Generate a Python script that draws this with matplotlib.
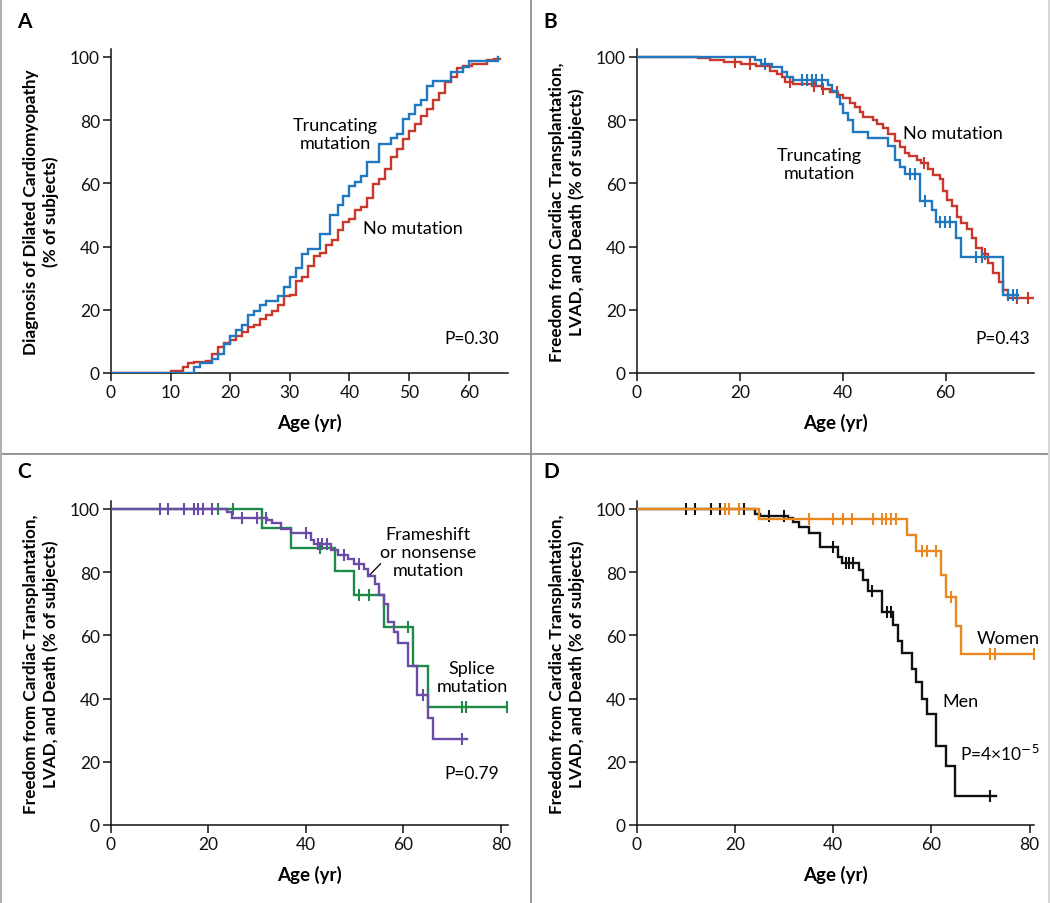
import numpy as np
import matplotlib
matplotlib.use("Agg")
import matplotlib.pyplot as plt
from matplotlib.lines import Line2D

plt.rcParams['font.family'] = ['Lato', 'DejaVu Sans']

# ---------------- Panel A: cumulative diagnosis ----------------
a_none_ages = [10, 12, 13, 14, 16, 17, 18, 19, 20, 21, 22, 23, 24, 25, 26, 27, 28, 29, 30, 31,
               32, 33, 34, 35, 36, 37, 38, 39, 40, 41, 42, 43, 44, 45, 46, 47, 48, 49, 50, 51,
               52, 53, 54, 55, 56, 57, 58, 59, 60.6, 63, 64.2]
a_none_vals = [0.6, 1.9, 3.2, 3.5, 3.8, 5.9, 8.2, 9.6, 10.3, 11.6, 13.0, 14.5, 15.1, 17.2, 18.2,
               19.5, 21.4, 24.4, 24.6, 29.1, 30.4, 34.0, 37.0, 38.0, 40.6, 42.1, 45.1, 47.8, 48.8,
               51.5, 52.5, 55.4, 59.7, 61.5, 64.5, 68.4, 70.8, 73.9, 76.5, 78.7, 81.2, 83.6, 86.3,
               88.7, 92.1, 93.7, 96.5, 97.2, 97.8, 99.0, 99.3]
a_none_end = 65.2
a_trunc_ages = [14, 15, 17, 18, 19, 20, 21, 22, 23, 24, 25, 26, 28, 29, 30, 31, 32, 33, 35, 36.8,
                38, 39, 40, 41, 42, 43, 45, 47, 48, 49, 50, 51, 52, 53, 54, 57, 59, 60, 65]
a_trunc_vals = [1.9, 3.3, 4.5, 6.1, 9.3, 11.6, 13.7, 15.3, 18.2, 19.6, 21.4, 22.8, 24.3, 27.2,
                30.4, 33.2, 37.8, 39.3, 44.1, 49.9, 53.1, 56.0, 59.1, 60.4, 62.2, 66.6, 72.6,
                74.2, 75.7, 80.3, 81.8, 84.9, 86.3, 90.8, 92.3, 95.3, 96.8, 98.7, 100.0]
a_trunc_end = 65

# ---------------- Panel B: survival, truncating vs none ----------------
b_none_ages = [11.9, 14.1, 16.9, 20.3, 23.1, 25.9, 27.2, 28.1, 28.8, 30.4, 34.0, 35.9, 37.5, 39.1,
               40.1, 41.4, 42.4, 43.4, 44.0, 45.9, 46.6, 47.9, 48.9, 50.2, 51.1, 52.1, 52.8, 54.4,
               55.3, 56.6, 57.6, 58.9, 59.6, 60.2, 61.2, 62.2, 63.1, 64.1, 65.1, 66.0, 67.0, 68.3,
               69.3, 70.3, 71.2, 72.2]
b_none_vals = [99.6, 99.0, 98.4, 97.8, 97.0, 95.5, 94.5, 93.5, 92.0, 91.3, 90.7, 89.9, 89.0, 88.0,
               86.9, 85.3, 84.0, 82.5, 81.0, 80.0, 78.9, 77.5, 75.6, 73.5, 71.5, 69.7, 68.6, 67.5,
               66.3, 64.5, 62.7, 61.3, 57.6, 54.7, 52.7, 49.4, 47.3, 45.4, 42.7, 39.6, 37.5, 34.9,
               31.6, 28.9, 26.4, 23.6]
b_none_cens = [19.1, 22.0, 29.7, 34.5, 36.2, 38.8, 55.9, 67.7, 73.8, 76.1]
b_none_end = 77.2
b_trunc_ages = [22.9, 24.2, 26.2, 28.1, 29.1, 30.3, 37.2, 38.0, 38.8, 39.5, 40.1, 41.1, 42.1, 45.0,
                48.9, 50.2, 51.1, 52.1, 55.0, 57.3, 58.1, 62.0, 63.1, 71.1]
b_trunc_vals = [98.9, 97.6, 96.8, 95.3, 93.7, 92.6, 91.0, 89.1, 87.3, 85.2, 82.1, 80.0, 76.1, 74.2,
                71.8, 67.3, 65.2, 63.1, 54.4, 51.5, 47.8, 42.7, 36.7, 24.6]
b_trunc_cens = [24.9, 32.0, 33.0, 34.0, 34.9, 35.9, 53.1, 54.1, 56.0, 58.9, 59.9, 60.9, 66.0, 67.0,
                72.2, 73.2, 73.8]
b_trunc_end = 74.1

# ---------------- Panel C: frameshift/nonsense vs splice ----------------
c_frame_ages = [23.8, 24.9, 32.1, 33.1, 34.8, 37.0, 41.0, 41.7, 45.1, 46.5, 48.6, 49.9, 52.0, 52.7,
                54.1, 55.1, 56.1, 56.9, 58.0, 59.0, 60.9, 62.8, 65.0, 66.1]
c_frame_vals = [99.1, 97.2, 96.5, 95.4, 93.8, 92.3, 90.1, 88.8, 87.0, 85.4, 84.1, 82.7, 81.1, 78.8,
                76.4, 72.9, 70.0, 64.2, 61.0, 57.6, 50.2, 41.0, 33.9, 27.3]
c_frame_cens = [10.0, 11.8, 14.9, 17.0, 17.8, 18.9, 20.7, 26.9, 30.0, 31.9, 40.0, 42.4, 43.4, 44.4,
                47.9, 51.0, 64.0, 72.1]
c_frame_end = 73.1
c_splice_ages = [30.9, 37.0, 46.0, 49.9, 56.0, 62.1, 65.0]
c_splice_vals = [94.1, 87.7, 80.3, 72.9, 62.6, 50.2, 37.3]
c_splice_cens = [21.9, 25.0, 42.9, 51.0, 53.0, 60.9, 72.1, 72.9, 81.2]
c_splice_end = 81.6

# ---------------- Panel D: women vs men ----------------
d_women_ages = [24.8, 55.0, 56.9, 62.0, 62.9, 65.1, 66.1]
d_women_vals = [96.8, 91.7, 86.6, 79.2, 72.1, 63.1, 54.1]
d_women_cens = [17.9, 18.8, 20.8, 35.0, 40.0, 41.9, 43.9, 48.0, 50.0, 50.8, 51.7, 52.7, 58.0, 59.0,
                60.9, 63.9, 72.0, 72.9, 81.0]
d_women_end = 81.6
d_men_ages = [24.0, 25.0, 30.7, 31.8, 33.1, 35.0, 37.2, 40.9, 41.8, 45.2, 46.0, 47.0, 50.0, 52.1,
              53.1, 54.1, 56.0, 56.9, 58.0, 59.0, 60.9, 62.9, 64.9]
d_men_vals = [98.4, 97.9, 97.0, 96.0, 94.4, 92.3, 87.8, 84.8, 83.0, 80.6, 77.4, 73.9, 67.3, 63.3,
              58.3, 54.3, 49.5, 45.3, 40.0, 35.0, 24.9, 18.8, 9.2]
d_men_cens = [10.0, 11.8, 15.0, 17.0, 21.9, 26.9, 29.9, 40.0, 42.5, 43.3, 44.1, 47.9, 51.0, 51.7,
              72.0]
d_men_end = 73.1

BLUE = '#1f78c0'
RED = '#c8382c'
PURPLE = '#6a4ca6'
GREEN = '#1d8a48'
ORANGE = '#e8881e'
BLACK = '#111111'

LW = 1.7
ANN = 13


def km(ax, ages, vals, start, end, color, cens=None, z=2):
    x = np.concatenate([[0.0], ages, [end]])
    y = np.concatenate([[start], vals, [vals[-1]]])
    ax.step(x, y, where='post', color=color, lw=LW, zorder=z, solid_joinstyle='miter')
    if cens:
        cx = np.asarray(cens, dtype=float)
        idx = np.searchsorted(x, cx, side='right') - 1
        cy = y[idx]
        ax.plot(cx, cy, ls='none', marker='|', ms=8, mew=1.5, color=color, zorder=z)


fig = plt.figure(figsize=(10.5, 9.04), dpi=100)
fig.patch.set_facecolor('white')

W, H = 1050, 904


def make_ax(left_px, top_px, right_px, bottom_px):
    return fig.add_axes([left_px / W, 1 - bottom_px / H, (right_px - left_px) / W,
                         (bottom_px - top_px) / H])


axA = make_ax(111, 50, 508, 374)
axB = make_ax(637, 50, 1034, 374)
axC = make_ax(111, 502, 508, 826)
axD = make_ax(637, 502, 1034, 826)

for ax in (axA, axB, axC, axD):
    for s in ('top', 'right'):
        ax.spines[s].set_visible(False)
    for s in ('left', 'bottom'):
        ax.spines[s].set_linewidth(1.1)
        ax.spines[s].set_color('#111111')
    ax.set_ylim(0, 102.5)
    ax.set_yticks([0, 20, 40, 60, 80, 100])
    ax.tick_params(direction='out', length=6, width=1.1, labelsize=12.5, pad=2,
                   color='#111111', labelcolor='#111111')
    ax.set_xlabel('Age (yr)', fontsize=13.5, fontweight='bold', labelpad=9)

axA.set_xlim(0, 66.6)
axA.set_xticks(np.arange(0, 61, 10))
axB.set_xlim(0, 77.2)
axB.set_xticks([0, 20, 40, 60])
axC.set_xlim(0, 81.5)
axC.set_xticks([0, 20, 40, 60, 80])
axD.set_xlim(0, 80.9)
axD.set_xticks([0, 20, 40, 60, 80])

ylab_surv = 'Freedom from Cardiac Transplantation,\nLVAD, and Death (% of subjects)'
axA.set_ylabel('Diagnosis of Dilated Cardiomyopathy\n(% of subjects)', fontsize=12.3,
               fontweight='bold', labelpad=8, linespacing=1.25)
for ax in (axB, axC, axD):
    ax.set_ylabel(ylab_surv, fontsize=12.3, fontweight='bold', labelpad=8, linespacing=1.25)

# Panel A
km(axA, a_none_ages, a_none_vals, 0, a_none_end, RED, z=2)
km(axA, a_trunc_ages, a_trunc_vals, 0, a_trunc_end, BLUE, z=3)
axA.text(37.6, 75.6, 'Truncating\nmutation', ha='center', va='center', fontsize=ANN, linespacing=1.15)
axA.text(42.3, 45.9, 'No mutation', ha='left', va='center', fontsize=ANN)
axA.text(65.1, 11.1, 'P=0.30', ha='right', va='center', fontsize=12.5)

# Panel B
km(axB, b_none_ages, b_none_vals, 100, b_none_end, RED, b_none_cens, z=2)
km(axB, b_trunc_ages, b_trunc_vals, 100, b_trunc_end, BLUE, b_trunc_cens, z=3)
axB.text(51.7, 75.9, 'No mutation', ha='left', va='center', fontsize=ANN)
axB.text(35.4, 66.1, 'Truncating\nmutation', ha='center', va='center', fontsize=ANN, linespacing=1.15)
axB.text(76.4, 11.1, 'P=0.43', ha='right', va='center', fontsize=12.5)

# Panel C
km(axC, c_splice_ages, c_splice_vals, 100, c_splice_end, GREEN, c_splice_cens, z=2)
km(axC, c_frame_ages, c_frame_vals, 100, c_frame_end, PURPLE, c_frame_cens, z=3)
axC.text(65.1, 86.4, 'Frameshift\nor nonsense\nmutation', ha='center', va='center',
         fontsize=ANN, linespacing=1.15)
axC.plot([52.8, 55.3], [78.6, 82.6], color='#111111', lw=1.0)
axC.text(74.1, 46.8, 'Splice\nmutation', ha='center', va='center', fontsize=ANN, linespacing=1.15)
axC.text(79.7, 16.5, 'P=0.79', ha='right', va='center', fontsize=12.5)

# Panel D
km(axD, d_women_ages, d_women_vals, 100, d_women_end, ORANGE, d_women_cens, z=3)
km(axD, d_men_ages, d_men_vals, 100, d_men_end, BLACK, d_men_cens, z=2)
axD.text(69.2, 59.2, 'Women', ha='left', va='center', fontsize=ANN)
axD.text(62.3, 39.2, 'Men', ha='left', va='center', fontsize=ANN)
axD.text(65.8, 22.8, 'P=4\u00d710$^{\u22125}$', ha='left', va='center', fontsize=12.5)

# Panel letters
for lbl, (px, py) in zip('ABCD', [(17, 22), (543, 22), (17, 472), (543, 472)]):
    fig.text(px / W, 1 - py / H, lbl, fontsize=15, fontweight='bold', ha='left', va='center')

# Frame and dividers
frame_col = '#8c8c8c'
fig.add_artist(Line2D([531 / W, 531 / W], [0, 1], color=frame_col, lw=1.3, transform=fig.transFigure))
fig.add_artist(Line2D([0, 1], [1 - 455 / H, 1 - 455 / H], color=frame_col, lw=1.3,
                      transform=fig.transFigure))
fig.add_artist(Line2D([0.0007, 0.0007], [0, 1], color='#b0b0b0', lw=1.5, transform=fig.transFigure))
fig.add_artist(Line2D([0.9993, 0.9993], [0, 1], color='#d8d8d8', lw=1.5, transform=fig.transFigure))

fig.savefig('out.png', dpi=100, facecolor='white')
